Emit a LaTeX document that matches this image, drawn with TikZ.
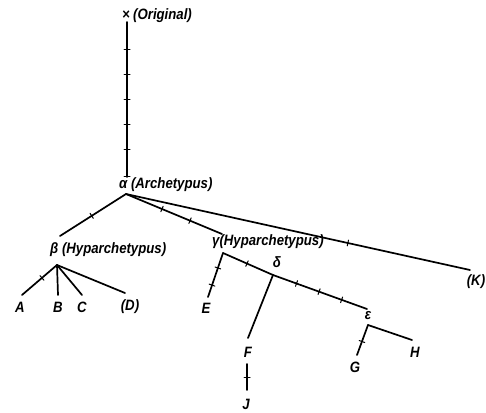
\documentclass[tikz,border=0pt]{standalone}
\usepackage{fontspec}
\setmainfont{Liberation Sans}
\newfontfamily\stemfont[FakeStretch=0.88]{Liberation Sans}
\usetikzlibrary{decorations.markings}
\begin{document}
\begin{tikzpicture}[x=1pt,y=-1pt,
  branch/.style={line width=1.7pt,line cap=round,line join=round},
  tk/.style={postaction={decorate,decoration={markings,
     mark=at position #1 with {\draw[line width=1pt] (0,-3pt) -- (0,3pt);}}}},
  lbl/.style={inner sep=0pt,font=\stemfont\bfseries\itshape\fontsize{15}{15}\selectfont},
]
\useasboundingbox (0,0) rectangle (486,412);

% manuscript labels
\node[lbl] (orig)  at (126,15) {×};
\node[lbl,anchor=west] (origt) at (133,16) {(Original)};
\node[lbl,anchor=west] (alpha) at (119,185) {α (Archetypus)};
\node[lbl,anchor=west] (beta)  at (50,250) {β (Hyparchetypus)};
\node[lbl,anchor=west] (gamma) at (212,242) {γ(Hyparchetypus)};
\node[lbl] (delta) at (277,262) {δ};
\node[lbl] (eps)   at (368,316) {ε};
\node[lbl] (A) at (20,307) {A};
\node[lbl] (B) at (58,307) {B};
\node[lbl] (C) at (82,307) {C};
\node[lbl] (D) at (130,307) {(D)};
\node[lbl] (E) at (206,308) {E};
\node[lbl] (F) at (248,352) {F};
\node[lbl] (J) at (246,404) {J};
\node[lbl] (G) at (355,367) {G};
\node[lbl] (H) at (415,352) {H};
\node[lbl] (K) at (476,282) {(K)};

% branch points and line ends
\coordinate (oTop) at (127,22);
\coordinate (oBot) at (127,177);
\coordinate (aJ) at (126,194);
\coordinate (bTop) at (60,236);
\coordinate (gTop) at (222,234);
\coordinate (kEnd) at (470,270);
\coordinate (bJ) at (57,265);
\coordinate (aEnd) at (22,295);
\coordinate (bEnd) at (58,295);
\coordinate (cEnd) at (82,295);
\coordinate (dEnd) at (125,293);
\coordinate (gJ) at (223,253);
\coordinate (eEnd) at (208,297);
\coordinate (dJ) at (273,275);
\coordinate (epsTop) at (367,309);
\coordinate (fEnd) at (248,338);
\coordinate (jTop) at (247,364);
\coordinate (jEnd) at (247,390);
\coordinate (epsJ) at (368,325);
\coordinate (gEnd) at (357,355);
\coordinate (hEnd) at (412,340);

% stemma
\draw[branch,tk=0.18,tk=0.34,tk=0.5,tk=0.66,tk=0.82,tk=0.995] (oTop) -- (oBot);
\draw[branch,tk=0.52] (aJ) -- (bTop);
\draw[branch,tk=0.375,tk=0.667] (aJ) -- (gTop);
\draw[branch,tk=0.645] (aJ) -- (kEnd);
\draw[branch,tk=0.43] (bJ) -- (aEnd);
\draw[branch] (bJ) -- (bEnd);
\draw[branch] (bJ) -- (cEnd);
\draw[branch] (bJ) -- (dEnd);
\draw[branch,tk=0.34,tk=0.73] (gJ) -- (eEnd);
\draw[branch,tk=0.48] (gJ) -- (dJ);
\draw[branch,tk=0.25,tk=0.49,tk=0.73] (dJ) -- (epsTop);
\draw[branch] (dJ) -- (fEnd);
\draw[branch,tk=0.5] (jTop) -- (jEnd);
\draw[branch,tk=0.55] (epsJ) -- (gEnd);
\draw[branch] (epsJ) -- (hEnd);
\end{tikzpicture}
\end{document}
